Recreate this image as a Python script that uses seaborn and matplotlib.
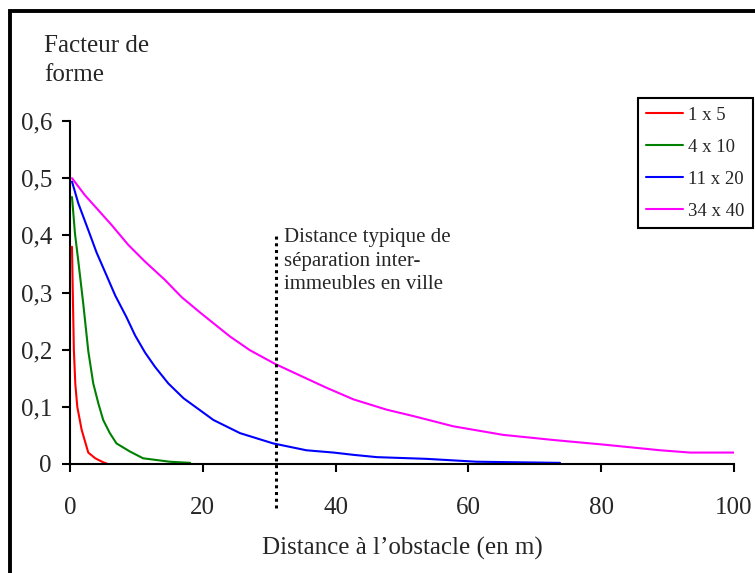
import pandas as pd
import numpy as np
import matplotlib
matplotlib.use("Agg")
import matplotlib.pyplot as plt
from matplotlib.patches import Rectangle
import seaborn as sns

# donnees
series_names = ["1 x 5", "4 x 10", "11 x 20", "34 x 40"]
series_colors = ["#FF0000", "#008000", "#0000FF", "#FF00FF"]

x_1x5 = [0.3, 0.42, 0.58, 0.8, 1.1, 1.75, 2.75, 3.8, 5.0, 5.7]
y_1x5 = [0.38, 0.30, 0.2, 0.14, 0.1, 0.06, 0.02, 0.01, 0.003, 0.0]

x_4x10 = [0.3, 0.75, 1.25, 2.0, 2.76, 3.5, 4.27, 5.0, 6.0, 7.0, 9.0, 11.0, 13.0, 15.0, 18.1]
y_4x10 = [0.467, 0.403, 0.355, 0.28, 0.197, 0.141, 0.106, 0.077, 0.054, 0.036, 0.022, 0.01, 0.007, 0.004, 0.002]

x_11x20 = [0.3, 1.25, 2.76, 4.0, 5.5, 6.8, 8.5, 9.8, 11.3, 12.8, 14.8, 17.1, 21.6, 25.6,
           30.6, 35.6, 39.7, 42.7, 46.2, 53.7, 61.2, 73.8]
y_11x20 = [0.494, 0.456, 0.409, 0.37, 0.33, 0.295, 0.257, 0.225, 0.195, 0.170, 0.141, 0.115,
           0.077, 0.054, 0.036, 0.024, 0.020, 0.016, 0.012, 0.009, 0.004, 0.002]

x_34x40 = [0.3, 2.26, 4.27, 6.27, 8.8, 11.3, 14.3, 16.8, 19.8, 24.1, 27.1, 30.9, 34.6, 38.7,
           42.7, 47.7, 52.0, 57.7, 65.2, 72.8, 80.3, 88.9, 93.4, 100.0]
y_34x40 = [0.5, 0.47, 0.444, 0.418, 0.383, 0.354, 0.322, 0.292, 0.263, 0.223, 0.199, 0.175,
           0.155, 0.133, 0.113, 0.095, 0.083, 0.066, 0.051, 0.042, 0.034, 0.024, 0.020, 0.020]

x_ticks = [0, 20, 40, 60, 80, 100]
y_ticks = [0, 0.1, 0.2, 0.3, 0.4, 0.5, 0.6]
y_tick_labels = ["0", "0,1", "0,2", "0,3", "0,4", "0,5", "0,6"]

distance_typique = 31

frames = []
for name, xs, ys in zip(series_names, [x_1x5, x_4x10, x_11x20, x_34x40],
                        [y_1x5, y_4x10, y_11x20, y_34x40]):
    frames.append(pd.DataFrame({"distance": xs, "facteur": ys, "dim": name}))
df = pd.concat(frames, ignore_index=True)

sns.set_style("ticks")
plt.rcParams["font.family"] = ["Liberation Serif", "DejaVu Serif"]

fig = plt.figure(figsize=(7.55, 5.73), dpi=100)
ax = fig.add_axes([70 / 755, 1 - 464 / 573, 664 / 755, 343 / 573])

sns.lineplot(data=df, x="distance", y="facteur", hue="dim", hue_order=series_names,
             palette=series_colors, estimator=None, sort=False, linewidth=1.5, ax=ax)

# ligne de separation typique
ax.plot([distance_typique, distance_typique], [-0.077, 0.404], color="black",
        linestyle=(0, (1, 1.2)), linewidth=2.2, clip_on=False)
ax.text(distance_typique + 1.2, 0.412, "Distance typique de\nséparation inter-\nimmeubles en ville",
        fontsize=15, va="top", ha="left", linespacing=1.32)

ax.set_xlim(0, 100)
ax.set_ylim(0, 0.6)
ax.set_xticks(x_ticks)
ax.set_yticks(y_ticks)
ax.set_yticklabels(y_tick_labels)
ax.tick_params(axis="both", labelsize=18, length=6, width=1.5, color="black")
ax.tick_params(axis="x", pad=18)
ax.tick_params(axis="y", pad=7)
for s in ["left", "bottom"]:
    ax.spines[s].set_linewidth(1.5)
    ax.spines[s].set_color("black")
sns.despine(ax=ax)
ax.set_xlabel("Distance à l’obstacle (en m)", fontsize=18, labelpad=13)
ax.set_ylabel("")

fig.text(44 / 755, 1 - 35 / 573, "Facteur de\nforme", fontsize=18, va="top", ha="left",
         linespacing=1.4)

leg = ax.legend(title=None, loc="upper right", bbox_to_anchor=(753 / 755, 1 - 98 / 573),
                bbox_transform=fig.transFigure, fontsize=13.5, frameon=True, fancybox=False,
                handlelength=1.95, handletextpad=0.3, labelspacing=0.8, borderpad=0.45,
                borderaxespad=0)
leg.get_frame().set_edgecolor("black")
leg.get_frame().set_linewidth(1.5)
leg.get_frame().set_alpha(1)

# cadre exterieur
fig.patches.append(Rectangle((9.5 / 755, -0.1), 1.2, 1.1 - 11.5 / 573, transform=fig.transFigure,
                             fill=False, edgecolor="black", linewidth=2.8))

fig.savefig("out.png", dpi=100)
